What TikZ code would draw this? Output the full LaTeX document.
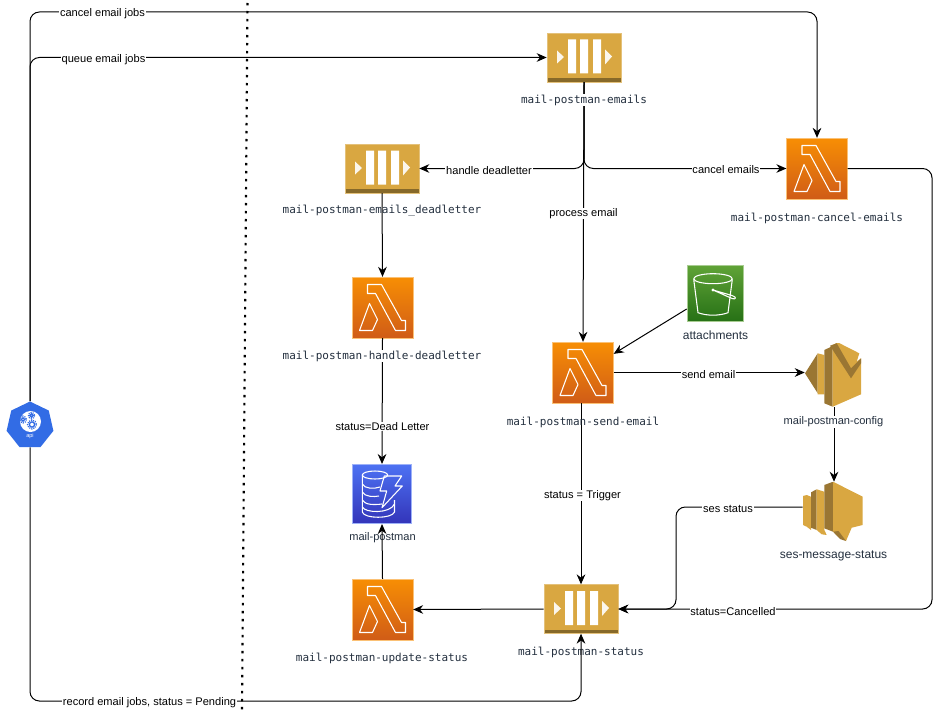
\documentclass[tikz,border=0pt]{standalone}
\usepackage{fontspec}
\setmainfont{Liberation Sans}
\newfontfamily\codefont{DejaVu Sans Mono}
\usetikzlibrary{arrows.meta,shapes.geometric}
\definecolor{inkblue}{HTML}{232F3E}
\definecolor{queuegold}{HTML}{D9A741}
\definecolor{queuedark}{HTML}{876929}
\definecolor{sesdark}{HTML}{9A7633}
\definecolor{lambdatop}{HTML}{F78E04}
\definecolor{lambdabottom}{HTML}{D05C17}
\definecolor{buckettop}{HTML}{60A337}
\definecolor{bucketbottom}{HTML}{277116}
\definecolor{dynamotop}{HTML}{4D72F3}
\definecolor{dynamobottom}{HTML}{3334B9}
\definecolor{apiblue}{HTML}{326CE5}
\tikzset{
  flow/.style={draw=black,line width=0.75pt,rounded corners=7pt,-{Stealth[length=7.5pt,width=6.5pt]}},
  flowlabel/.style={fill=white,inner sep=0.6pt,yshift=-1.1pt,font=\fontsize{8.3}{10}\selectfont},
  codelabel/.style={inner sep=0.6pt,yshift=-0.8pt,text=inkblue,font=\codefont\fontsize{8.25}{10}\selectfont},
  iconlabel/.style={inner sep=0.6pt,yshift=-0.8pt,text=inkblue,font=\fontsize{8.3}{10}\selectfont},
  glyph/.style={draw=white,line width=0.8pt,line join=round},
  queuebox/.style={rectangle,minimum width=55.5pt,minimum height=36.5pt,inner sep=0pt,fill=queuegold,draw=queuegold!70!white,line width=0.5pt,
    path picture={
      \begin{scope}[shift={(path picture bounding box.center)}]
        \fill[queuedark] (-38,20.5) rectangle (38,25);
        \fill[white] (-16,-18) rectangle (-8,16) (-4,-18) rectangle (4,16) (9,-18) rectangle (17,16);
        \fill[white,opacity=0.9] (-27,-7) -- (-20,-0.5) -- (-27,6) -- cycle (21,-8) -- (28,-1) -- (21,7) -- cycle;
      \end{scope}
    }},
  lambdabox/.style={rectangle,minimum size=45.5pt,inner sep=0pt,top color=lambdatop,bottom color=lambdabottom,draw=lambdatop!55!white,line width=0.5pt,
    path picture={
      \begin{scope}[shift={(path picture bounding box.center)}]
        \draw[glyph] (-15,-23) -- (-1,-23) -- (19,13) -- (23,13) -- (23,23) -- (13,23) -- (-7,-14) -- (-15,-14) -- cycle;
        \draw[glyph] (-23,23) -- (-13,-4) -- (-5,12) -- (-10,23) -- cycle;
      \end{scope}
    }},
  bucketbox/.style={rectangle,minimum size=42pt,inner sep=0pt,top color=buckettop,bottom color=bucketbottom,draw=buckettop!55!white,line width=0.5pt,
    path picture={
      \begin{scope}[shift={(path picture bounding box.center)}]
        \draw[glyph] (-2,-14.3) ellipse [x radius=19.3,y radius=5];
        \draw[glyph] (-21.3,-13.7) -- (-17,19.7) .. controls (-8,23) and (4,23) .. (13,19.7) -- (17.3,-13.7);
        \draw[glyph] (-2,-3) -- (17,2.5) .. controls (22,4) and (21,7) .. (17,5.5) -- (-2,-3);
        \fill[white] (-2,-3) circle (1.6);
      \end{scope}
    }},
  dynamobox/.style={rectangle,minimum size=44.5pt,inner sep=0pt,top color=dynamotop,bottom color=dynamobottom,draw=dynamotop!55!white,line width=0.5pt,
    path picture={
      \begin{scope}[shift={(path picture bounding box.center)}]
        \draw[glyph] (-7,-19) ellipse [x radius=12.7,y radius=4];
        \draw[glyph] (-19.7,-19) -- (-19.7,18) .. controls (-18,25) and (10,25) .. (12.5,18) -- (12.5,6);
        \draw[glyph] (-19.7,-10) .. controls (-17,-5) and (-8,-5) .. (-2,-7);
        \draw[glyph] (-19.7,-2) .. controls (-17,3) and (-8,3) .. (-3,2);
        \draw[glyph] (-19.7,6) .. controls (-17,11) and (-8,11) .. (0,10);
        \draw[glyph] (-19.7,13) .. controls (-17,19) and (8,20) .. (12.5,10);
        \draw[glyph] (2.3,-18) -- (19.7,-18) -- (13,-8) -- (20.3,-8) -- (0,13.7) -- (4.7,-3) -- (-2,-3) -- cycle;
      \end{scope}
    }},
  sesbox/.style={rectangle,minimum width=43.5pt,minimum height=48pt,inner sep=0pt,
    path picture={
      \begin{scope}[shift={(path picture bounding box.center)}]
        \fill[sesdark] (-29,-1.7) -- (-16.3,-21.7) -- (-16.3,18.3) -- cycle;
        \fill[queuegold] (-16.3,-21.7) -- (-9.7,-20) -- (-9.7,19.3) -- (-16.3,19.3) -- cycle;
        \fill[sesdark] (-9.7,-25) -- (-1.3,-29) -- (-1.3,31.7) -- (-9.7,28.3) -- cycle;
        \fill[queuegold] (-1.3,-30) -- (3.7,-32.7) -- (25.3,-21.7) -- (22.7,-13.3) -- (27,-16.7) -- (27,19.3) -- (-1.3,31.7) -- cycle;
        \fill[sesdark] (-4,-29.3) -- (2.7,-31.7) -- (17,-6.7) -- (27,-16.7) -- (27,-11.7) -- (17,3.3) -- cycle;
      \end{scope}
    }},
  snsbox/.style={rectangle,minimum size=45pt,inner sep=0pt,
    path picture={
      \begin{scope}[shift={(path picture bounding box.center)}]
        \fill[queuegold] (-30,-16) -- (-26.3,-17) -- (-22,-15.3) -- (-22,18) -- (-26.3,14.7) -- (-30,13) -- cycle;
        \fill[sesdark] (-22,-19.7) -- (-16.3,-22.7) -- (-16.3,18) -- (-22,15.7) -- cycle;
        \fill[queuegold] (-16.3,-22.7) -- (-8.7,-20.3) -- (-8.7,18) -- (-6.3,23) -- (-11.3,22.3) -- (-16.3,18) -- cycle;
        \fill[sesdark] (-8.7,-27) -- (0,-30.3) -- (0,19.7) -- (-8.7,16.3) -- cycle;
        \fill[queuegold] (0,-30.3) -- (29.7,-15.3) -- (29.7,13) -- (18.7,15.7) -- (13,29) -- (0,19.7) -- cycle;
        \fill[sesdark] (0,19.7) -- (5.5,19) -- (13,29) -- (7,27) -- cycle;
      \end{scope}
    }},
  apibox/.style={regular polygon,regular polygon sides=7,minimum size=36pt,inner sep=0pt,fill=apiblue,
    path picture={
      \begin{scope}[shift={(path picture bounding box.center)}]
        \fill[white] (0.5,-4) circle (10.5);
        \draw[apiblue,line width=1pt] (-7,-6) circle (1.8) (1.5,-10) circle (1.6) (2,-1) circle (2.6);
        \draw[apiblue,line width=1pt,dash pattern=on 0.8pt off 0.8pt] (-7,-6) circle (3.4) (1.5,-10) circle (3) (2,-1) circle (4.4);
      \end{scope}
    }}
}
\begin{document}
\begin{tikzpicture}[x=0.75pt,y=-0.75pt]
  \useasboundingbox (0,0) rectangle (948,717);

  % boundary between caller and services
  \draw[line width=1.6pt,dash pattern=on 1.8pt off 4.2pt] (247.5,3) -- (242,712);

  % text crossed by its own connector
  \node[iconlabel] (dynamolabel) at (382.5,537) {mail-postman};
  \node[codelabel] (statuslabel) at (581,651) {mail-postman-status};

  % queues
  \node[queuebox] (emails) at (584,57.5) {};
  \node[queuebox] (deadletter) at (382,168.5) {};
  \node[queuebox] (status) at (581,609) {};

  % functions
  \node[lambdabox] (cancel) at (817,168.5) {};
  \node[lambdabox] (handle) at (382.5,307.5) {};
  \node[lambdabox] (send) at (583,372.5) {};
  \node[lambdabox] (update) at (382.5,609.5) {};

  % other services
  \node[bucketbox] (bucket) at (715,293) {};
  \node[dynamobox] (dynamo) at (382,494) {};
  \node[sesbox] (ses) at (834,375) {};
  \node[snsbox] (sns) at (833,512) {};
  \node[apibox] (api) at (30,425.5) {};
  \node[text=white,inner sep=0pt,font=\fontsize{4.2}{5}\selectfont] (apilabel) at (30,436) {api};

  \coordinate (canceltop) at (817,12);
  \coordinate (statusbottom) at (581,701);
  \coordinate (cancelturn) at (932,609);
  \coordinate (sesturn) at (676,507);

  % connectors
  \draw[flow] (api.north) |- (canceltop) -- (cancel.north);
  \draw[flow] (api.north) |- (emails.west);
  \draw[flow] (api.south) |- (statusbottom) -- (status.south);
  \draw[flow] (emails.south) |- (deadletter.east);
  \draw[flow] (emails.south) |- (cancel.west);
  \draw[flow] (emails.south) -- (send.north);
  \draw[flow] (cancel.east) -| (cancelturn) -- (status.east);
  \draw[flow] (deadletter.south) -- (handle.north);
  \draw[flow] (handle.south) -- (dynamo.north);
  \draw[flow] (update.north) -- (dynamo.south);
  \draw[flow] (status.west) -- (update.east);
  \draw[flow] (send.south -| status.north) -- (status.north);
  \draw[flow] ([yshift=-12pt]bucket.west) -- ([yshift=14pt]send.east);
  \draw[flow] (send.east) -- (send.east -| ses.west);
  \draw[flow] (ses.south) -- (ses.south |- sns.north);
  \draw[flow] (sns.west |- sesturn) -- (sesturn) |- (status.east);

  % connector labels
  \node[flowlabel] (canceljobs) at (102.5,12) {cancel email jobs};
  \node[flowlabel] (queuejobs) at (103.5,58) {queue email jobs};
  \node[flowlabel] (recordjobs) at (149.5,701) {record email jobs, status = Pending};
  \node[flowlabel] (handledead) at (489,169) {handle deadletter};
  \node[flowlabel] (cancelmails) at (726,168) {cancel emails};
  \node[flowlabel] (processmail) at (583.5,212) {process email};
  \node[flowlabel] (deadstatus) at (382.5,425) {status=Dead Letter};
  \node[flowlabel] (triggerstatus) at (582.5,494) {status = Trigger};
  \node[flowlabel] (sendmail) at (708.5,373) {send email};
  \node[flowlabel] (sesstatus) at (728,508) {ses status};
  \node[flowlabel] (cancelledstatus) at (733,610) {status=Cancelled};

  % icon labels
  \node[codelabel,fill=white] (emailslabel) at (584,99) {mail-postman-emails};
  \node[codelabel] (deadletterlabel) at (382,210) {mail-postman-emails\_deadletter};
  \node[codelabel] (cancellabel) at (817,217) {mail-postman-cancel-emails};
  \node[codelabel,fill=white] (handlelabel) at (382,355) {mail-postman-handle-deadletter};
  \node[codelabel] (sendlabel) at (583,421) {mail-postman-send-email};
  \node[codelabel] (updatelabel) at (382,657) {mail-postman-update-status};
  \node[iconlabel,font=\fontsize{9}{10}\selectfont] (bucketlabel) at (715.5,334) {attachments};
  \node[iconlabel,fill=white] (seslabel) at (833.5,421) {mail-postman-config};
  \node[iconlabel,font=\fontsize{9}{10}\selectfont] (snslabel) at (833.5,554.5) {ses-message-status};
\end{tikzpicture}
\end{document}
